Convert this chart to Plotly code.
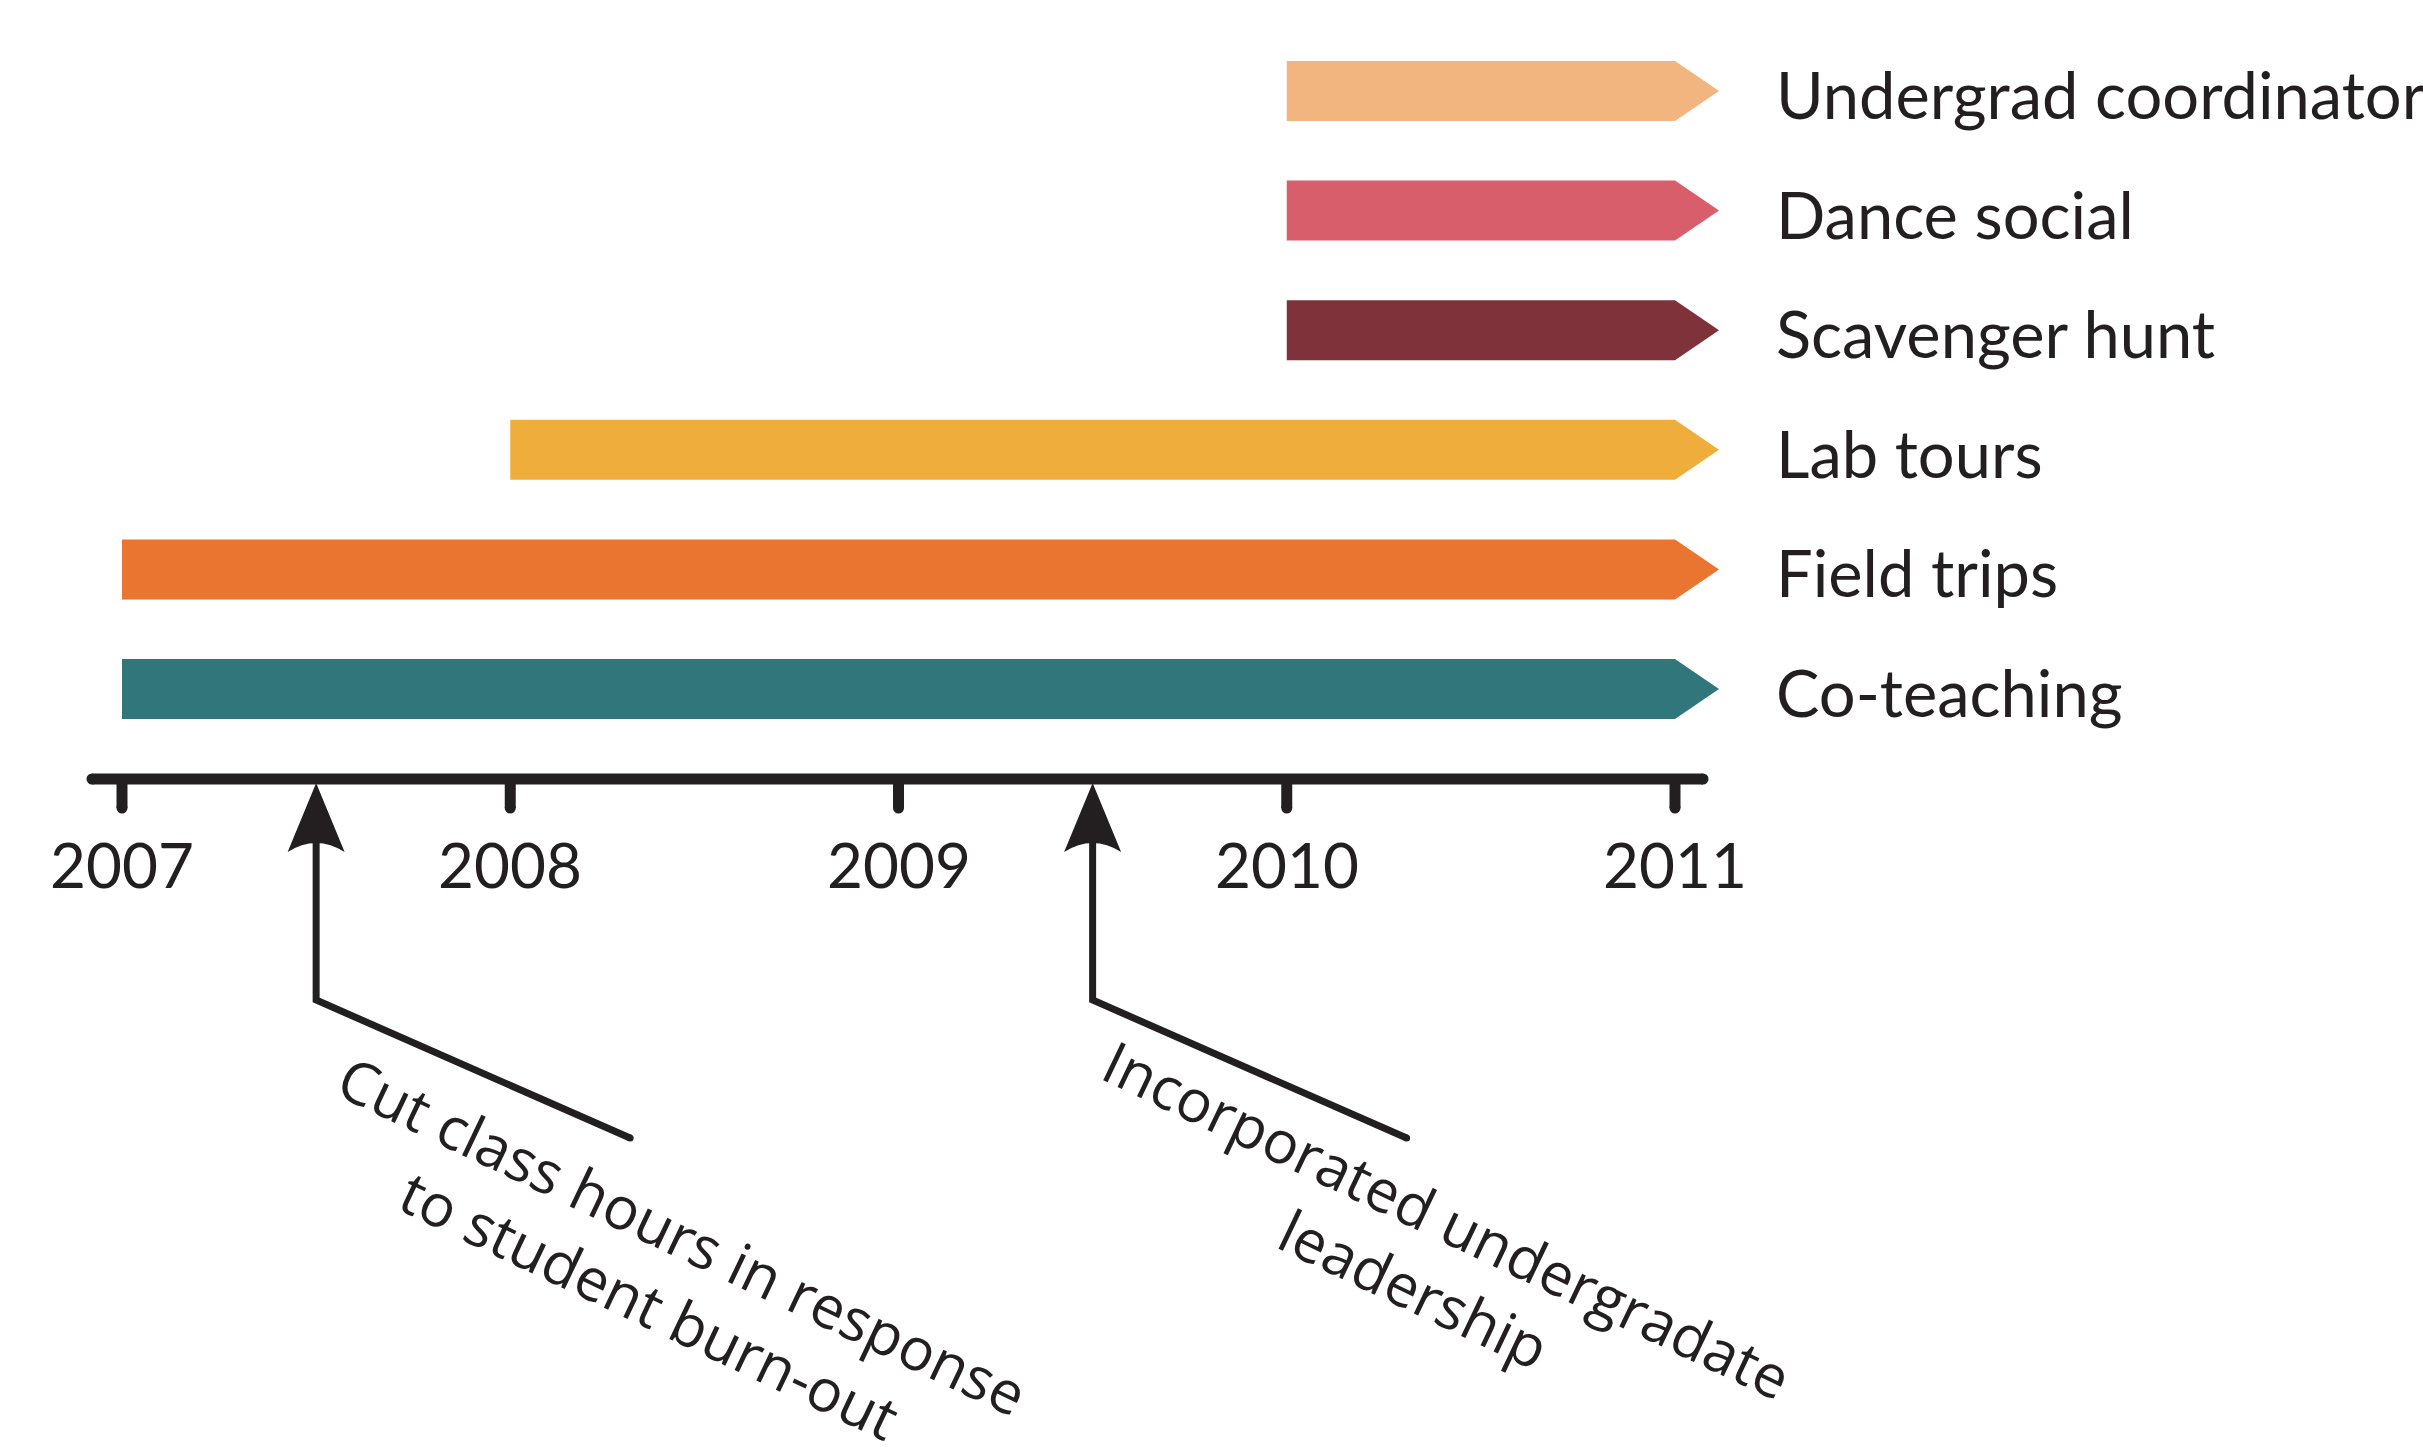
import plotly.graph_objects as go

# ---------------- data ----------------
activities = ["Co-teaching", "Field trips", "Lab tours", "Scavenger hunt", "Dance social", "Undergrad coordinator"]
start_year = [2007, 2007, 2008, 2010, 2010, 2010]
end_year = [2011, 2011, 2011, 2011, 2011, 2011]
bar_colors = ["#31767B", "#E97530", "#EFAE3C", "#80323B", "#D85E6C", "#F2B580"]

tick_years = [2007, 2008, 2009, 2010, 2011]
tick_labels = ["2007", "2008", "2009", "2010", "2011"]

event_year = [2007.5, 2009.5]
event_text = ["Cut class hours in response<br>to student burn-out",
              "Incorporated undergradate<br>leadership"]

# ---------------- geometry helpers ----------------
W, H = 2423, 1449
PX_YEAR = 388.25          # pixels per year
PX_ROW = 119.6            # pixels per activity row
X0_PX, ROW0_PX = 122, 689  # pixel position of 2007 / first row centre


def dx(px):
    return px / PX_YEAR


def dy(px):
    return px / PX_ROW


x_range = [2007 - dx(X0_PX), 2007 + dx(W - X0_PX)]
y_range = [-dy(H - ROW0_PX), dy(ROW0_PX)]

INK = "#231f20"
fig = go.Figure()

half = dy(30)
tip = dx(44)
for i, (name, s, e, c) in enumerate(zip(activities, start_year, end_year, bar_colors)):
    fig.add_trace(go.Scatter(
        x=[s, e, e + tip, e, s, s],
        y=[i - half, i - half, i, i + half, i + half, i - half],
        mode="lines", fill="toself", fillcolor=c,
        line=dict(width=0, color=c), hoverinfo="skip", showlegend=False))
    fig.add_annotation(x=e + dx(99), y=i - dy(3), text=name, showarrow=False,
                       xanchor="left", yanchor="middle",
                       font=dict(family="Lato", size=65, color=INK))

# axis line
axis_y = -dy(90)
axis_left = tick_years[0] - dx(30)
axis_right = tick_years[-1] + dx(28)
fig.add_shape(type="line", x0=axis_left, x1=axis_right, y0=axis_y, y1=axis_y,
              line=dict(color=INK, width=11), layer="above")
cap_x = [axis_left, axis_right]
cap_y = [axis_y, axis_y]

tick_bottom = -dy(119)
for yr, lab in zip(tick_years, tick_labels):
    fig.add_shape(type="line", x0=yr, x1=yr, y0=axis_y, y1=tick_bottom,
                  line=dict(color=INK, width=11), layer="above")
    cap_x.append(yr)
    cap_y.append(tick_bottom)
    fig.add_annotation(x=yr, y=-dy(175), text=lab, showarrow=False,
                       xanchor="center", yanchor="middle",
                       font=dict(family="Lato", size=62, color=INK))

fig.add_trace(go.Scatter(x=cap_x, y=cap_y, mode="markers",
                         marker=dict(size=11, color=INK, line=dict(width=0)),
                         hoverinfo="skip", showlegend=False))

# event arrows
tip_y = -dy(94)
head_len = dy(69)
head_half = dx(28.5)
notch = dy(18)
corner_y = -dy(311)
end_dx = dx(314)
end_y = -dy(449)
text_offsets = [(dx(350), -dy(580)), (dx(338), -dy(564))]
leader_ends_x, leader_ends_y = [], []
for ev, txt, (ox, oy) in zip(event_year, event_text, text_offsets):
    base = tip_y - head_len
    path = (f"M {ev} {tip_y} L {ev + head_half} {base} "
            f"Q {ev} {base + notch} {ev - head_half} {base} Z")
    fig.add_shape(type="path", path=path, fillcolor=INK, line=dict(width=0),
                  layer="above")
    fig.add_trace(go.Scatter(
        x=[ev, ev, ev + end_dx], y=[tip_y - dy(20), corner_y, end_y],
        mode="lines", line=dict(color=INK, width=7),
        hoverinfo="skip", showlegend=False))
    leader_ends_x.append(ev + end_dx)
    leader_ends_y.append(end_y)
    fig.add_annotation(x=ev + ox, y=oy, text=txt, showarrow=False,
                       textangle=25.5, align="center",
                       xanchor="center", yanchor="middle",
                       font=dict(family="Open Sans", size=59, color=INK))

fig.add_trace(go.Scatter(x=leader_ends_x, y=leader_ends_y, mode="markers",
                         marker=dict(size=7, color=INK, line=dict(width=0)),
                         hoverinfo="skip", showlegend=False))

fig.update_layout(
    width=W, height=H,
    margin=dict(l=0, r=0, t=0, b=0),
    paper_bgcolor="white", plot_bgcolor="white",
    showlegend=False,
    xaxis=dict(range=x_range, visible=False, fixedrange=True),
    yaxis=dict(range=y_range, visible=False, fixedrange=True),
)

fig.write_html("out.html")
